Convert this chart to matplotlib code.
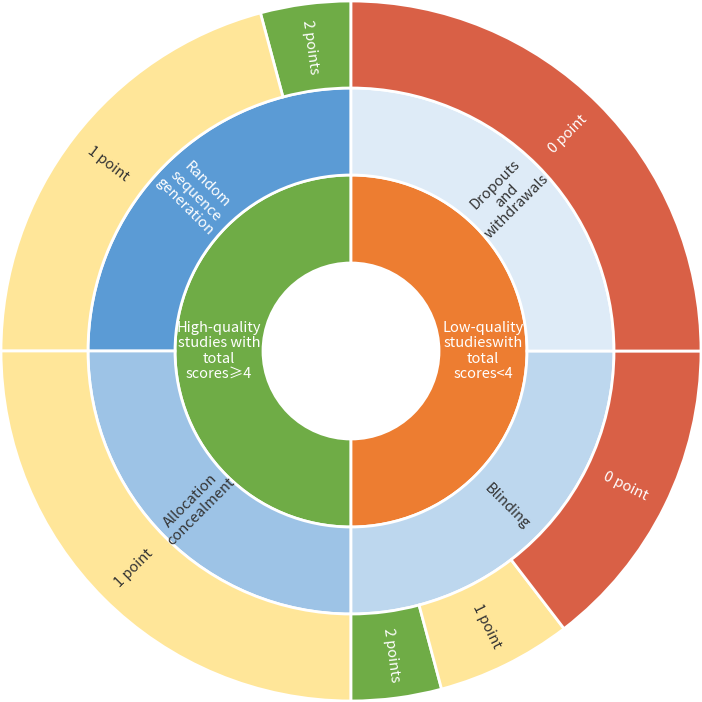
import numpy as np
import matplotlib.pyplot as plt

# Data
inner_labels = ['High-quality\nstudies with\ntotal\nscores≥4', 'Low-quality\nstudieswith\ntotal\nscores<4']
inner_values = [24, 24]
inner_colors = ['#6FAC46', '#ED7D31']
inner_text = ['white', 'white']

middle_labels = ['Random\nsequence\ngeneration', 'Allocation\nconcealment', 'Blinding', 'Dropouts\nand\nwithdrawals']
middle_values = [12, 12, 12, 12]
middle_colors = ['#5B9BD5', '#9DC3E6', '#BDD7EE', '#DEEBF7']
middle_text = ['white', '#333333', '#333333', '#333333']

outer_labels = ['2 points', '1 point', '1 point', '2 points', '1 point', '0 point', '0 point']
outer_values = [2, 10, 12, 2, 3, 7, 12]
outer_colors = ['#6FAC46', '#FFE699', '#FFE699', '#6FAC46', '#FFE699', '#D96046', '#D96046']
outer_text = ['white', '#333333', '#333333', 'white', '#333333', 'white', 'white']

plt.rcParams['font.family'] = ['Noto Sans CJK SC', 'DejaVu Sans']

fig = plt.figure(figsize=(7.02, 7.02), dpi=100)
ax = fig.add_axes([0, 0, 1, 1])

R_out, R_mid, R_in, R_hole = 350, 263, 176, 88
edge = dict(edgecolor='white', linewidth=2)


def ring(values, colors, labels, tcolors, r_outer, r_inner):
    wedges, _ = ax.pie(values, radius=r_outer, colors=colors, startangle=90,
                       counterclock=True,
                       wedgeprops=dict(width=r_outer - r_inner, **edge))
    r_text = (r_outer + r_inner) / 2
    for w, lab, tc in zip(wedges, labels, tcolors):
        ang = (w.theta1 + w.theta2) / 2
        a = ang % 360
        rot = a if (a <= 90 or a >= 270) else a - 180
        x = r_text * np.cos(np.radians(ang))
        y = r_text * np.sin(np.radians(ang))
        ax.text(x, y, lab, ha='center', va='center', rotation=rot,
                rotation_mode='anchor', color=tc, fontsize=10.5,
                linespacing=1.12, multialignment='center')


ring(inner_values, inner_colors, inner_labels, inner_text, R_in, R_hole)
ring(middle_values, middle_colors, middle_labels, middle_text, R_mid, R_in)
ring(outer_values, outer_colors, outer_labels, outer_text, R_out, R_mid)

ax.set_xlim(-351, 351)
ax.set_ylim(-351, 351)
ax.set_aspect('equal')
ax.axis('off')

fig.savefig('out.png', dpi=100, facecolor='white')
